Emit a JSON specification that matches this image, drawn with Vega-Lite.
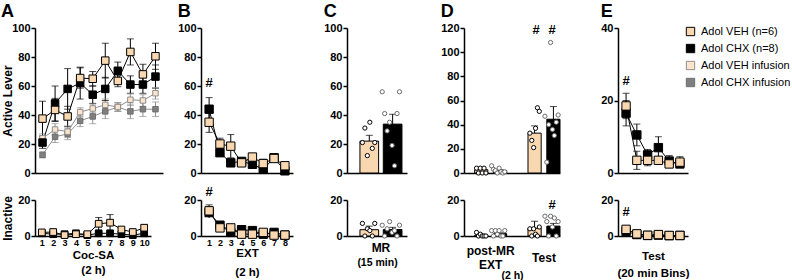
{
"$schema": "https://vega.github.io/schema/vega-lite/v6.json",
"padding": {"left": 1, "top": 3, "right": 0, "bottom": 0},
"config": {
  "font": "Liberation Sans",
  "view": {"stroke": null},
  "axis": {"labelFont": "Liberation Sans", "labelFontWeight": "bold", "labelColor": "#000", "titleFont": "Liberation Sans", "titleFontWeight": "bold", "titleColor": "#000", "domainColor": "#000", "tickColor": "#000", "grid": false, "domainWidth": 1.5, "tickWidth": 1.5, "labelOverlap": false, "labelFlush": false, "labelBound": false},
  "axisY": {"labelOverlap": false, "tickCount": 10},
  "title": {"font": "Liberation Sans", "fontSize": 18, "fontWeight": "bold", "anchor": "start", "color": "#000", "offset": 1},
  "legend": {"orient": "none", "legendX": 650, "legendY": -2, "labelFont": "Liberation Sans", "labelFontSize": 11, "labelColor": "#000", "symbolType": "square", "symbolSize": 70, "symbolStrokeWidth": 1, "rowPadding": 4, "labelOffset": 5, "padding": 0}
},
"hconcat": [
 {"hconcat": [
  {"vconcat": [
   {"width": 128, "height": 145, "title": {"text": "A"},
    "data": {"values": [
     {"s":"Adol CHX infusion","x":1,"m":12.5,"lo":10.5,"hi":14.5},
     {"s":"Adol CHX infusion","x":2,"m":25,"lo":21,"hi":29},
     {"s":"Adol CHX infusion","x":3,"m":27,"lo":23,"hi":31},
     {"s":"Adol CHX infusion","x":4,"m":36,"lo":32,"hi":40},
     {"s":"Adol CHX infusion","x":5,"m":39,"lo":34,"hi":44},
     {"s":"Adol CHX infusion","x":6,"m":42.5,"lo":37.5,"hi":47.5},
     {"s":"Adol CHX infusion","x":7,"m":45.5,"lo":42.5,"hi":48.5},
     {"s":"Adol CHX infusion","x":8,"m":42.5,"lo":37.5,"hi":47.5},
     {"s":"Adol CHX infusion","x":9,"m":44,"lo":39,"hi":49},
     {"s":"Adol CHX infusion","x":10,"m":44,"lo":39,"hi":49},
     {"s":"Adol VEH infusion","x":1,"m":24,"lo":21,"hi":27},
     {"s":"Adol VEH infusion","x":2,"m":30,"lo":26,"hi":34},
     {"s":"Adol VEH infusion","x":3,"m":28.5,"lo":24.5,"hi":32.5},
     {"s":"Adol VEH infusion","x":4,"m":42,"lo":39,"hi":45},
     {"s":"Adol VEH infusion","x":5,"m":44.5,"lo":41.5,"hi":47.5},
     {"s":"Adol VEH infusion","x":6,"m":47,"lo":43,"hi":51},
     {"s":"Adol VEH infusion","x":7,"m":45.5,"lo":42.5,"hi":48.5},
     {"s":"Adol VEH infusion","x":8,"m":50.5,"lo":46.5,"hi":54.5},
     {"s":"Adol VEH infusion","x":9,"m":50,"lo":46,"hi":54},
     {"s":"Adol VEH infusion","x":10,"m":55,"lo":51,"hi":59},
     {"s":"Adol CHX (n=8)","x":1,"m":21,"lo":17,"hi":25},
     {"s":"Adol CHX (n=8)","x":2,"m":48,"lo":36,"hi":60},
     {"s":"Adol CHX (n=8)","x":3,"m":58,"lo":44,"hi":72},
     {"s":"Adol CHX (n=8)","x":4,"m":62,"lo":51,"hi":73},
     {"s":"Adol CHX (n=8)","x":5,"m":54,"lo":48,"hi":60},
     {"s":"Adol CHX (n=8)","x":6,"m":58,"lo":50,"hi":66},
     {"s":"Adol CHX (n=8)","x":7,"m":70.5,"lo":64.5,"hi":76.5},
     {"s":"Adol CHX (n=8)","x":8,"m":61,"lo":55,"hi":67},
     {"s":"Adol CHX (n=8)","x":9,"m":61,"lo":55,"hi":67},
     {"s":"Adol CHX (n=8)","x":10,"m":66.5,"lo":58.5,"hi":74.5},
     {"s":"Adol VEH (n=6)","x":1,"m":37.5,"lo":25.5,"hi":49.5},
     {"s":"Adol VEH (n=6)","x":2,"m":43.5,"lo":35.5,"hi":51.5},
     {"s":"Adol VEH (n=6)","x":3,"m":39,"lo":32,"hi":46},
     {"s":"Adol VEH (n=6)","x":4,"m":65.5,"lo":58.5,"hi":72.5},
     {"s":"Adol VEH (n=6)","x":5,"m":65,"lo":60,"hi":70},
     {"s":"Adol VEH (n=6)","x":6,"m":77.5,"lo":65.5,"hi":89.5},
     {"s":"Adol VEH (n=6)","x":7,"m":63.5,"lo":59.5,"hi":67.5},
     {"s":"Adol VEH (n=6)","x":8,"m":83.5,"lo":74.5,"hi":92.5},
     {"s":"Adol VEH (n=6)","x":9,"m":68,"lo":61,"hi":75},
     {"s":"Adol VEH (n=6)","x":10,"m":80.5,"lo":71.5,"hi":89.5}
    ]},
    "encoding": {"x": {"field": "x", "type": "ordinal", "scale": {"type": "point", "padding": 0.6}, "axis": {"labels": false, "ticks": false, "title": null}}},
    "layer": [
     {"mark": {"type": "rule", "strokeWidth": 1}, "encoding": {"y": {"field": "lo", "type": "quantitative", "scale": {"domain": [0, 100]}, "axis": {"title": "Active Lever", "values": [0,20,40,60,80,100], "tickCount": 10, "tickSize": 4, "labelPadding": 1, "labelFontSize": 11, "labelOverlap": false, "titleFontSize": 12, "minExtent": 20, "maxExtent": 20, "titlePadding": 1}}, "y2": {"field": "hi"}, "color": {"condition": {"test": "indexof(datum.s,'infusion')>=0", "value": "#8F8F8F"}, "value": "#000000"}}},
     {"mark": {"type": "tick", "thickness": 1, "size": 7}, "encoding": {"y": {"field": "lo", "type": "quantitative"}, "color": {"condition": {"test": "indexof(datum.s,'infusion')>=0", "value": "#8F8F8F"}, "value": "#000000"}}},
     {"mark": {"type": "tick", "thickness": 1, "size": 7}, "encoding": {"y": {"field": "hi", "type": "quantitative"}, "color": {"condition": {"test": "indexof(datum.s,'infusion')>=0", "value": "#8F8F8F"}, "value": "#000000"}}},
     {"mark": {"type": "line", "strokeWidth": 1}, "encoding": {"y": {"field": "m", "type": "quantitative"}, "detail": {"field": "s"}, "color": {"condition": {"test": "indexof(datum.s,'infusion')>=0", "value": "#8F8F8F"}, "value": "#000000"}}},
     {"transform": [{"filter": "indexof(datum.s,'infusion')>=0"}], "mark": {"type": "square", "opacity": 1, "strokeWidth": 1, "size": 30}, "encoding": {"y": {"field": "m", "type": "quantitative"},
       "fill": {"field": "s", "type": "nominal", "title": null, "scale": {"domain": ["Adol VEH (n=6)","Adol CHX (n=8)","Adol VEH infusion","Adol CHX infusion"], "range": ["#F9D7B1","#000000","#FCE3CB","#7F7F7F"]}},
       "stroke": {"field": "s", "type": "nominal", "title": null, "scale": {"domain": ["Adol VEH (n=6)","Adol CHX (n=8)","Adol VEH infusion","Adol CHX infusion"], "range": ["#000000","#000000","#8F8F8F","#6F6F6F"]}}}},
     {"transform": [{"filter": "indexof(datum.s,'infusion')<0"}], "mark": {"type": "square", "opacity": 1, "strokeWidth": 1, "size": 56}, "encoding": {"y": {"field": "m", "type": "quantitative"},
       "fill": {"field": "s", "type": "nominal", "title": null, "scale": {"domain": ["Adol VEH (n=6)","Adol CHX (n=8)","Adol VEH infusion","Adol CHX infusion"], "range": ["#F9D7B1","#000000","#FCE3CB","#7F7F7F"]}},
       "stroke": {"field": "s", "type": "nominal", "title": null, "scale": {"domain": ["Adol VEH (n=6)","Adol CHX (n=8)","Adol VEH infusion","Adol CHX infusion"], "range": ["#000000","#000000","#8F8F8F","#6F6F6F"]}}}}
    ]
   },
   {"width": 116, "height": 36,
    "data": {"values": [
     {"s":"Adol CHX (n=8)","x":1,"m":1.5,"lo":1,"hi":2},
     {"s":"Adol CHX (n=8)","x":2,"m":1,"lo":0.5,"hi":1.5},
     {"s":"Adol CHX (n=8)","x":3,"m":1,"lo":0.5,"hi":1.5},
     {"s":"Adol CHX (n=8)","x":4,"m":1.5,"lo":1,"hi":2},
     {"s":"Adol CHX (n=8)","x":5,"m":0.5,"lo":0.2,"hi":0.8},
     {"s":"Adol CHX (n=8)","x":6,"m":1.5,"lo":1,"hi":2},
     {"s":"Adol CHX (n=8)","x":7,"m":1.5,"lo":1,"hi":2},
     {"s":"Adol CHX (n=8)","x":8,"m":1,"lo":0.5,"hi":1.5},
     {"s":"Adol CHX (n=8)","x":9,"m":0.5,"lo":0.2,"hi":0.8},
     {"s":"Adol CHX (n=8)","x":10,"m":1.5,"lo":1,"hi":2},
     {"s":"Adol VEH (n=6)","x":1,"m":2,"lo":1.3,"hi":2.7},
     {"s":"Adol VEH (n=6)","x":2,"m":2.2,"lo":1.5,"hi":2.9},
     {"s":"Adol VEH (n=6)","x":3,"m":0.5,"lo":0.2,"hi":0.8},
     {"s":"Adol VEH (n=6)","x":4,"m":1,"lo":0.5,"hi":1.5},
     {"s":"Adol VEH (n=6)","x":5,"m":1,"lo":0.5,"hi":1.5},
     {"s":"Adol VEH (n=6)","x":6,"m":6.8,"lo":3.3,"hi":10.3},
     {"s":"Adol VEH (n=6)","x":7,"m":7.4,"lo":2.9,"hi":11.9},
     {"s":"Adol VEH (n=6)","x":8,"m":3.6,"lo":2.6,"hi":4.6},
     {"s":"Adol VEH (n=6)","x":9,"m":2.2,"lo":1.4,"hi":3},
     {"s":"Adol VEH (n=6)","x":10,"m":4.6,"lo":3.1,"hi":6.1}
    ]},
    "encoding": {"x": {"field": "x", "type": "ordinal", "scale": {"type": "point", "padding": 0.6}, "axis": {"labelAngle": 0, "labelFontSize": 9, "ticks": false, "labelPadding": 2, "title": ["Coc-SA", "(2 h)"], "titleFontSize": 11.5, "titleLineHeight": 15, "titlePadding": 2}}},
    "layer": [
     {"mark": {"type": "rule", "strokeWidth": 1, "color": "#000"}, "encoding": {"y": {"field": "lo", "type": "quantitative", "scale": {"domain": [0, 20]}, "axis": {"title": "Inactive", "values": [0,20], "tickCount": 10, "tickSize": 4, "labelPadding": 1, "labelFontSize": 11, "labelOverlap": false, "titleFontSize": 12, "minExtent": 20, "maxExtent": 20, "titlePadding": 1}}, "y2": {"field": "hi"}}},
     {"mark": {"type": "tick", "thickness": 1, "size": 7, "color": "#000"}, "encoding": {"y": {"field": "hi", "type": "quantitative"}}},
     {"mark": {"type": "line", "strokeWidth": 1, "color": "#000"}, "encoding": {"y": {"field": "m", "type": "quantitative"}, "detail": {"field": "s"}}},
     {"mark": {"type": "square", "opacity": 1, "strokeWidth": 1, "size": 45}, "encoding": {"y": {"field": "m", "type": "quantitative"},
       "fill": {"field": "s", "type": "nominal", "title": null, "scale": {"domain": ["Adol VEH (n=6)","Adol CHX (n=8)","Adol VEH infusion","Adol CHX infusion"], "range": ["#F9D7B1","#000000","#FCE3CB","#7F7F7F"]}},
       "stroke": {"field": "s", "type": "nominal", "title": null, "scale": {"domain": ["Adol VEH (n=6)","Adol CHX (n=8)","Adol VEH infusion","Adol CHX infusion"], "range": ["#000000","#000000","#8F8F8F","#6F6F6F"]}}}}
    ]
   }
  ], "spacing": 27, "bounds": "flush"},
  {"vconcat": [
   {"width": 92, "height": 145, "title": {"text": "B"},
    "data": {"values": [
     {"s":"Adol CHX (n=8)","x":1,"m":44,"lo":36,"hi":52},
     {"s":"Adol CHX (n=8)","x":2,"m":14,"lo":12,"hi":16},
     {"s":"Adol CHX (n=8)","x":3,"m":7,"lo":5,"hi":9},
     {"s":"Adol CHX (n=8)","x":4,"m":8,"lo":6,"hi":10},
     {"s":"Adol CHX (n=8)","x":5,"m":6,"lo":4,"hi":8},
     {"s":"Adol CHX (n=8)","x":6,"m":2.5,"lo":0.5,"hi":4.5},
     {"s":"Adol CHX (n=8)","x":7,"m":10.5,"lo":8.5,"hi":12.5},
     {"s":"Adol CHX (n=8)","x":8,"m":1.5,"lo":0.5,"hi":2.5},
     {"s":"Adol VEH (n=6)","x":1,"m":35,"lo":28,"hi":42},
     {"s":"Adol VEH (n=6)","x":2,"m":20,"lo":16,"hi":24},
     {"s":"Adol VEH (n=6)","x":3,"m":18.5,"lo":10.5,"hi":26.5},
     {"s":"Adol VEH (n=6)","x":4,"m":7,"lo":5,"hi":9},
     {"s":"Adol VEH (n=6)","x":5,"m":11,"lo":9,"hi":13},
     {"s":"Adol VEH (n=6)","x":6,"m":6.5,"lo":3.5,"hi":9.5},
     {"s":"Adol VEH (n=6)","x":7,"m":10,"lo":8,"hi":12},
     {"s":"Adol VEH (n=6)","x":8,"m":5,"lo":3,"hi":7}
    ]},
    "encoding": {"x": {"field": "x", "type": "ordinal", "scale": {"type": "point", "padding": 0.75}, "axis": {"labels": false, "ticks": false, "title": null}}},
    "layer": [
     {"mark": {"type": "rule", "strokeWidth": 1, "color": "#000"}, "encoding": {"y": {"field": "lo", "type": "quantitative", "scale": {"domain": [0, 100]}, "axis": {"title": null, "values": [0,20,40,60,80,100], "tickCount": 10, "tickSize": 4, "labelPadding": 1, "labelFontSize": 11, "labelOverlap": false}}, "y2": {"field": "hi"}}},
     {"mark": {"type": "tick", "thickness": 1, "size": 7, "color": "#000"}, "encoding": {"y": {"field": "lo", "type": "quantitative"}}},
     {"mark": {"type": "tick", "thickness": 1, "size": 7, "color": "#000"}, "encoding": {"y": {"field": "hi", "type": "quantitative"}}},
     {"mark": {"type": "line", "strokeWidth": 1, "color": "#000"}, "encoding": {"y": {"field": "m", "type": "quantitative"}, "detail": {"field": "s"}}},
     {"mark": {"type": "square", "opacity": 1, "strokeWidth": 1, "size": 70}, "encoding": {"y": {"field": "m", "type": "quantitative"},
       "fill": {"field": "s", "type": "nominal", "title": null, "scale": {"domain": ["Adol VEH (n=6)","Adol CHX (n=8)","Adol VEH infusion","Adol CHX infusion"], "range": ["#F9D7B1","#000000","#FCE3CB","#7F7F7F"]}},
       "stroke": {"field": "s", "type": "nominal", "title": null, "scale": {"domain": ["Adol VEH (n=6)","Adol CHX (n=8)","Adol VEH infusion","Adol CHX infusion"], "range": ["#000000","#000000","#8F8F8F","#6F6F6F"]}}}},
     {"data": {"values": [{"x": 1, "y": 62, "t": "#"}]}, "mark": {"type": "text", "fontSize": 13, "fontWeight": "bold", "color": "#000"}, "encoding": {"x": {"field": "x", "type": "ordinal"}, "y": {"field": "y", "type": "quantitative"}, "text": {"field": "t"}}}
    ]
   },
   {"width": 92, "height": 36,
    "data": {"values": [
     {"s":"Adol CHX (n=8)","x":1,"m":13,"lo":10,"hi":16},
     {"s":"Adol CHX (n=8)","x":2,"m":6,"lo":5,"hi":7},
     {"s":"Adol CHX (n=8)","x":3,"m":2,"lo":1.2,"hi":2.8},
     {"s":"Adol CHX (n=8)","x":4,"m":3.5,"lo":2.8,"hi":4.2},
     {"s":"Adol CHX (n=8)","x":5,"m":3,"lo":2.2,"hi":3.8},
     {"s":"Adol CHX (n=8)","x":6,"m":1,"lo":0.5,"hi":1.5},
     {"s":"Adol CHX (n=8)","x":7,"m":2,"lo":1.4,"hi":2.6},
     {"s":"Adol CHX (n=8)","x":8,"m":0.5,"lo":0.2,"hi":0.8},
     {"s":"Adol VEH (n=6)","x":1,"m":14,"lo":10.7,"hi":17.3},
     {"s":"Adol VEH (n=6)","x":2,"m":4.5,"lo":3.5,"hi":5.5},
     {"s":"Adol VEH (n=6)","x":3,"m":4.5,"lo":3,"hi":6},
     {"s":"Adol VEH (n=6)","x":4,"m":1,"lo":0.5,"hi":1.5},
     {"s":"Adol VEH (n=6)","x":5,"m":1,"lo":0.5,"hi":1.5},
     {"s":"Adol VEH (n=6)","x":6,"m":2,"lo":1.2,"hi":2.8},
     {"s":"Adol VEH (n=6)","x":7,"m":0.5,"lo":0.2,"hi":0.8},
     {"s":"Adol VEH (n=6)","x":8,"m":0.5,"lo":0.2,"hi":0.8}
    ]},
    "encoding": {"x": {"field": "x", "type": "ordinal", "scale": {"type": "point", "padding": 0.75}, "axis": {"labelAngle": 0, "labelFontSize": 9, "ticks": false, "labelPadding": 2, "title": ["EXT", "(2 h)"], "titleFontSize": 11.5, "titleLineHeight": 19, "titlePadding": 0}}},
    "layer": [
     {"mark": {"type": "rule", "strokeWidth": 1, "color": "#000"}, "encoding": {"y": {"field": "lo", "type": "quantitative", "scale": {"domain": [0, 20]}, "axis": {"title": null, "values": [0,20], "tickCount": 10, "tickSize": 4, "labelPadding": 1, "labelFontSize": 11, "labelOverlap": false}}, "y2": {"field": "hi"}}},
     {"mark": {"type": "tick", "thickness": 1, "size": 7, "color": "#000"}, "encoding": {"y": {"field": "hi", "type": "quantitative"}}},
     {"mark": {"type": "line", "strokeWidth": 1, "color": "#000"}, "encoding": {"y": {"field": "m", "type": "quantitative"}, "detail": {"field": "s"}}},
     {"mark": {"type": "square", "opacity": 1, "strokeWidth": 1, "size": 70}, "encoding": {"y": {"field": "m", "type": "quantitative"},
       "fill": {"field": "s", "type": "nominal", "title": null, "scale": {"domain": ["Adol VEH (n=6)","Adol CHX (n=8)","Adol VEH infusion","Adol CHX infusion"], "range": ["#F9D7B1","#000000","#FCE3CB","#7F7F7F"]}},
       "stroke": {"field": "s", "type": "nominal", "title": null, "scale": {"domain": ["Adol VEH (n=6)","Adol CHX (n=8)","Adol VEH infusion","Adol CHX infusion"], "range": ["#000000","#000000","#8F8F8F","#6F6F6F"]}}}},
     {"data": {"values": [{"x": 1, "y": 24.5, "t": "#"}]}, "mark": {"type": "text", "fontSize": 13, "fontWeight": "bold", "color": "#000"}, "encoding": {"x": {"field": "x", "type": "ordinal"}, "y": {"field": "y", "type": "quantitative"}, "text": {"field": "t"}}}
    ]
   }
  ], "spacing": 27, "bounds": "flush"}
 ], "spacing": 14},
 {"hconcat": [
  {"vconcat": [
   {"width": 60, "height": 145, "title": {"text": "C"},
    "encoding": {"x": {"field": "ph", "type": "nominal", "scale": {"domain": ["MR"], "paddingInner": 0, "paddingOuter": 0.214, "align": 0.72}, "axis": {"labels": false, "ticks": false, "title": null}}},
    "layer": [
     {"data": {"values": [{"ph":"MR","s":"Adol VEH (n=6)","m":22,"hi":26},{"ph":"MR","s":"Adol CHX (n=8)","m":33.7,"hi":40.5}]},
      "mark": {"type": "bar", "stroke": "#000", "strokeWidth": 1},
      "encoding": {"xOffset": {"field": "s", "type": "nominal", "scale": {"domain": ["Adol VEH (n=6)","Adol CHX (n=8)"], "paddingInner": 0.2}},
       "y": {"field": "m", "type": "quantitative", "scale": {"domain": [0, 100]}, "axis": {"title": null, "values": [0,20,40,60,80,100], "tickCount": 10, "tickSize": 4, "labelPadding": 1, "labelFontSize": 11, "labelOverlap": false}},
       "fill": {"field": "s", "type": "nominal", "title": null, "scale": {"domain": ["Adol VEH (n=6)","Adol CHX (n=8)","Adol VEH infusion","Adol CHX infusion"], "range": ["#F9D7B1","#000000","#FCE3CB","#7F7F7F"]}}}},
     {"data": {"values": [{"ph":"MR","s":"Adol VEH (n=6)","m":22,"hi":26},{"ph":"MR","s":"Adol CHX (n=8)","m":33.7,"hi":40.5}]},
      "mark": {"type": "rule", "color": "#000", "strokeWidth": 1},
      "encoding": {"xOffset": {"field": "s", "type": "nominal", "scale": {"domain": ["Adol VEH (n=6)","Adol CHX (n=8)"], "paddingInner": 0.2}}, "y": {"field": "m", "type": "quantitative"}, "y2": {"field": "hi"}}},
     {"data": {"values": [{"ph":"MR","s":"Adol VEH (n=6)","m":22,"hi":26},{"ph":"MR","s":"Adol CHX (n=8)","m":33.7,"hi":40.5}]},
      "mark": {"type": "tick", "color": "#000", "thickness": 1, "size": 7},
      "encoding": {"xOffset": {"field": "s", "type": "nominal", "scale": {"domain": ["Adol VEH (n=6)","Adol CHX (n=8)"], "paddingInner": 0.2}}, "y": {"field": "hi", "type": "quantitative"}}},
     {"data": {"values": [
       {"ph":"MR","s":"Adol VEH (n=6)","id":"V1","v":21},{"ph":"MR","s":"Adol VEH (n=6)","id":"V2","v":31},{"ph":"MR","s":"Adol VEH (n=6)","id":"V3","v":12},
       {"ph":"MR","s":"Adol VEH (n=6)","id":"V4","v":35},{"ph":"MR","s":"Adol VEH (n=6)","id":"V5","v":17},{"ph":"MR","s":"Adol VEH (n=6)","id":"V6","v":21},
       {"ph":"MR","s":"Adol CHX (n=8)","id":"C1","v":56},{"ph":"MR","s":"Adol CHX (n=8)","id":"C2","v":41},{"ph":"MR","s":"Adol CHX (n=8)","id":"C3","v":29},
       {"ph":"MR","s":"Adol CHX (n=8)","id":"C4","v":35},{"ph":"MR","s":"Adol CHX (n=8)","id":"C5","v":19},{"ph":"MR","s":"Adol CHX (n=8)","id":"C6","v":5},
       {"ph":"MR","s":"Adol CHX (n=8)","id":"C7","v":41},{"ph":"MR","s":"Adol CHX (n=8)","id":"C8","v":56}
      ]},
      "mark": {"type": "circle", "fill": "#fff", "size": 18, "strokeWidth": 1, "opacity": 1},
      "encoding": {"xOffset": {"field": "id", "type": "nominal", "scale": {"type": "point", "padding": 1, "domain": ["V1","V2","V3","V4","V5","V6","g1","g2","C1","C2","C3","C4","C5","C6","C7","C8"]}},
       "y": {"field": "v", "type": "quantitative"},
       "stroke": {"condition": {"test": "datum.s == 'Adol VEH (n=6)'", "value": "#000"}, "value": "#6b6b6b"}}}
    ],
    "resolve": {"scale": {"xOffset": "independent"}}
   },
   {"width": 60, "height": 36,
    "encoding": {"x": {"field": "ph", "type": "nominal", "scale": {"domain": ["MR"], "paddingInner": 0, "paddingOuter": 0.214, "align": 0.72}, "axis": {"labelAngle": 0, "labelFontSize": 12, "ticks": false, "labelPadding": 6, "title": "(15 min)", "titleFontSize": 10.5, "titlePadding": 4}}},
    "layer": [
     {"data": {"values": [{"ph":"MR","s":"Adol VEH (n=6)","m":3.5,"hi":5.5},{"ph":"MR","s":"Adol CHX (n=8)","m":3.6,"hi":4.8}]},
      "mark": {"type": "bar", "stroke": "#000", "strokeWidth": 1},
      "encoding": {"xOffset": {"field": "s", "type": "nominal", "scale": {"domain": ["Adol VEH (n=6)","Adol CHX (n=8)"], "paddingInner": 0.2}},
       "y": {"field": "m", "type": "quantitative", "scale": {"domain": [0, 20]}, "axis": {"title": null, "values": [0,20], "tickCount": 10, "tickSize": 4, "labelPadding": 1, "labelFontSize": 11, "labelOverlap": false}},
       "fill": {"field": "s", "type": "nominal", "title": null, "scale": {"domain": ["Adol VEH (n=6)","Adol CHX (n=8)","Adol VEH infusion","Adol CHX infusion"], "range": ["#F9D7B1","#000000","#FCE3CB","#7F7F7F"]}}}},
     {"data": {"values": [{"ph":"MR","s":"Adol VEH (n=6)","m":3.5,"hi":5.5},{"ph":"MR","s":"Adol CHX (n=8)","m":3.6,"hi":4.8}]},
      "mark": {"type": "rule", "color": "#000", "strokeWidth": 1},
      "encoding": {"xOffset": {"field": "s", "type": "nominal", "scale": {"domain": ["Adol VEH (n=6)","Adol CHX (n=8)"], "paddingInner": 0.2}}, "y": {"field": "m", "type": "quantitative"}, "y2": {"field": "hi"}}},
     {"data": {"values": [{"ph":"MR","s":"Adol VEH (n=6)","m":3.5,"hi":5.5},{"ph":"MR","s":"Adol CHX (n=8)","m":3.6,"hi":4.8}]},
      "mark": {"type": "tick", "color": "#000", "thickness": 1, "size": 7},
      "encoding": {"xOffset": {"field": "s", "type": "nominal", "scale": {"domain": ["Adol VEH (n=6)","Adol CHX (n=8)"], "paddingInner": 0.2}}, "y": {"field": "hi", "type": "quantitative"}}},
     {"data": {"values": [
       {"ph":"MR","s":"Adol VEH (n=6)","id":"V1","v":7},{"ph":"MR","s":"Adol VEH (n=6)","id":"V2","v":0},{"ph":"MR","s":"Adol VEH (n=6)","id":"V3","v":4},
       {"ph":"MR","s":"Adol VEH (n=6)","id":"V4","v":3},{"ph":"MR","s":"Adol VEH (n=6)","id":"V5","v":0},{"ph":"MR","s":"Adol VEH (n=6)","id":"V6","v":7},
       {"ph":"MR","s":"Adol CHX (n=8)","id":"C1","v":6},{"ph":"MR","s":"Adol CHX (n=8)","id":"C2","v":0},{"ph":"MR","s":"Adol CHX (n=8)","id":"C3","v":4},
       {"ph":"MR","s":"Adol CHX (n=8)","id":"C4","v":8},{"ph":"MR","s":"Adol CHX (n=8)","id":"C5","v":2},{"ph":"MR","s":"Adol CHX (n=8)","id":"C6","v":3},
       {"ph":"MR","s":"Adol CHX (n=8)","id":"C7","v":0},{"ph":"MR","s":"Adol CHX (n=8)","id":"C8","v":6}
      ]},
      "mark": {"type": "circle", "fill": "#fff", "size": 18, "strokeWidth": 1, "opacity": 1},
      "encoding": {"xOffset": {"field": "id", "type": "nominal", "scale": {"type": "point", "padding": 1, "domain": ["V1","V2","V3","V4","V5","V6","g1","g2","C1","C2","C3","C4","C5","C6","C7","C8"]}},
       "y": {"field": "v", "type": "quantitative"},
       "stroke": {"condition": {"test": "datum.s == 'Adol VEH (n=6)'", "value": "#000"}, "value": "#6b6b6b"}}}
    ],
    "resolve": {"scale": {"xOffset": "independent"}}
   }
  ], "spacing": 27, "bounds": "flush"},
  {"hconcat": [
   {"vconcat": [
    {"width": 96, "height": 145, "title": {"text": "D"},
     "encoding": {"x": {"field": "ph", "type": "nominal", "scale": {"domain": ["post-MR EXT", "Test"], "paddingInner": 0.4, "paddingOuter": 0.1, "align": 1}, "axis": {"labels": false, "ticks": false, "title": null}}},
     "layer": [
      {"data": {"values": [{"ph":"post-MR EXT","s":"Adol VEH (n=6)","m":2.7,"hi":3.5},{"ph":"post-MR EXT","s":"Adol CHX (n=8)","m":2,"hi":2.8},{"ph":"Test","s":"Adol VEH (n=6)","m":33,"hi":39},{"ph":"Test","s":"Adol CHX (n=8)","m":44.5,"hi":55}]},
       "mark": {"type": "bar", "stroke": "#000", "strokeWidth": 1},
       "encoding": {"xOffset": {"field": "s", "type": "nominal", "scale": {"domain": ["Adol VEH (n=6)","Adol CHX (n=8)"], "paddingInner": 0.3}},
        "y": {"field": "m", "type": "quantitative", "scale": {"domain": [0, 120]}, "axis": {"title": null, "values": [0,20,40,60,80,100,120], "tickCount": 10, "tickSize": 4, "labelPadding": 1, "labelFontSize": 11, "labelOverlap": false}},
        "fill": {"field": "s", "type": "nominal", "title": null, "scale": {"domain": ["Adol VEH (n=6)","Adol CHX (n=8)","Adol VEH infusion","Adol CHX infusion"], "range": ["#F9D7B1","#000000","#FCE3CB","#7F7F7F"]}}}},
      {"data": {"values": [{"ph":"post-MR EXT","s":"Adol VEH (n=6)","m":2.7,"hi":3.5},{"ph":"post-MR EXT","s":"Adol CHX (n=8)","m":2,"hi":2.8},{"ph":"Test","s":"Adol VEH (n=6)","m":33,"hi":39},{"ph":"Test","s":"Adol CHX (n=8)","m":44.5,"hi":55}]},
       "mark": {"type": "rule", "color": "#000", "strokeWidth": 1},
       "encoding": {"xOffset": {"field": "s", "type": "nominal", "scale": {"domain": ["Adol VEH (n=6)","Adol CHX (n=8)"], "paddingInner": 0.3}}, "y": {"field": "m", "type": "quantitative"}, "y2": {"field": "hi"}}},
      {"data": {"values": [{"ph":"post-MR EXT","s":"Adol VEH (n=6)","m":2.7,"hi":3.5},{"ph":"post-MR EXT","s":"Adol CHX (n=8)","m":2,"hi":2.8},{"ph":"Test","s":"Adol VEH (n=6)","m":33,"hi":39},{"ph":"Test","s":"Adol CHX (n=8)","m":44.5,"hi":55}]},
       "mark": {"type": "tick", "color": "#000", "thickness": 1, "size": 7},
       "encoding": {"xOffset": {"field": "s", "type": "nominal", "scale": {"domain": ["Adol VEH (n=6)","Adol CHX (n=8)"], "paddingInner": 0.3}}, "y": {"field": "hi", "type": "quantitative"}}},
      {"data": {"values": [
        {"ph":"post-MR EXT","s":"Adol VEH (n=6)","id":"V1","v":4},{"ph":"post-MR EXT","s":"Adol VEH (n=6)","id":"V2","v":0},{"ph":"post-MR EXT","s":"Adol VEH (n=6)","id":"V3","v":4},
        {"ph":"post-MR EXT","s":"Adol VEH (n=6)","id":"V4","v":0},{"ph":"post-MR EXT","s":"Adol VEH (n=6)","id":"V5","v":4},{"ph":"post-MR EXT","s":"Adol VEH (n=6)","id":"V6","v":0},
        {"ph":"post-MR EXT","s":"Adol CHX (n=8)","id":"C1","v":6},{"ph":"post-MR EXT","s":"Adol CHX (n=8)","id":"C2","v":3},{"ph":"post-MR EXT","s":"Adol CHX (n=8)","id":"C3","v":2},
        {"ph":"post-MR EXT","s":"Adol CHX (n=8)","id":"C4","v":0},{"ph":"post-MR EXT","s":"Adol CHX (n=8)","id":"C5","v":4},{"ph":"post-MR EXT","s":"Adol CHX (n=8)","id":"C6","v":1},
        {"ph":"post-MR EXT","s":"Adol CHX (n=8)","id":"C7","v":0},{"ph":"post-MR EXT","s":"Adol CHX (n=8)","id":"C8","v":1},
        {"ph":"Test","s":"Adol VEH (n=6)","id":"V1","v":33},{"ph":"Test","s":"Adol VEH (n=6)","id":"V2","v":27},{"ph":"Test","s":"Adol VEH (n=6)","id":"V3","v":21},
        {"ph":"Test","s":"Adol VEH (n=6)","id":"V4","v":37},{"ph":"Test","s":"Adol VEH (n=6)","id":"V5","v":54},{"ph":"Test","s":"Adol VEH (n=6)","id":"V6","v":51},
        {"ph":"Test","s":"Adol CHX (n=8)","id":"C1","v":47},{"ph":"Test","s":"Adol CHX (n=8)","id":"C2","v":9},{"ph":"Test","s":"Adol CHX (n=8)","id":"C3","v":40},
        {"ph":"Test","s":"Adol CHX (n=8)","id":"C4","v":108},{"ph":"Test","s":"Adol CHX (n=8)","id":"C5","v":36},{"ph":"Test","s":"Adol CHX (n=8)","id":"C6","v":31},
        {"ph":"Test","s":"Adol CHX (n=8)","id":"C7","v":42},{"ph":"Test","s":"Adol CHX (n=8)","id":"C8","v":48}
       ]},
       "mark": {"type": "circle", "fill": "#fff", "size": 18, "strokeWidth": 1, "opacity": 1},
       "encoding": {"xOffset": {"field": "id", "type": "nominal", "scale": {"type": "point", "padding": 1, "domain": ["V1","V2","V3","V4","V5","V6","g1","g2","C1","C2","C3","C4","C5","C6","C7","C8"]}},
        "y": {"field": "v", "type": "quantitative"},
        "stroke": {"condition": {"test": "datum.s == 'Adol VEH (n=6)'", "value": "#000"}, "value": "#6b6b6b"}}},
      {"data": {"values": [{"ph":"Test","s":"Adol VEH (n=6)","y":118,"t":"#"},{"ph":"Test","s":"Adol CHX (n=8)","y":118,"t":"#"}]},
       "mark": {"type": "text", "fontSize": 13, "fontWeight": "bold", "color": "#000"},
       "encoding": {"xOffset": {"field": "s", "type": "nominal", "scale": {"domain": ["Adol VEH (n=6)","Adol CHX (n=8)"], "paddingInner": 0.3}}, "y": {"field": "y", "type": "quantitative"}, "text": {"field": "t"}}}
     ],
     "resolve": {"scale": {"xOffset": "independent"}}
    },
    {"width": 96, "height": 36,
     "encoding": {"x": {"field": "ph", "type": "nominal", "scale": {"domain": ["post-MR EXT", "Test"], "paddingInner": 0.4, "paddingOuter": 0.1, "align": 1}, "axis": {"labelAngle": 0, "labelFontSize": 12, "ticks": false, "labelBaseline": "middle", "labelPadding": {"condition": {"test": "datum.value == 'Test'", "value": 21}, "value": 14}, "labelLineHeight": 14, "labelExpr": "datum.value == 'post-MR EXT' ? ['post-MR', 'EXT'] : datum.label", "title": "(2 h)", "titleFontSize": 10.5, "titlePadding": 0}}},
     "layer": [
      {"data": {"values": [{"ph":"post-MR EXT","s":"Adol VEH (n=6)","m":0.5,"hi":1},{"ph":"post-MR EXT","s":"Adol CHX (n=8)","m":1.3,"hi":1.8},{"ph":"Test","s":"Adol VEH (n=6)","m":4.3,"hi":8.2},{"ph":"Test","s":"Adol CHX (n=8)","m":5.5,"hi":7}]},
       "mark": {"type": "bar", "stroke": "#000", "strokeWidth": 1},
       "encoding": {"xOffset": {"field": "s", "type": "nominal", "scale": {"domain": ["Adol VEH (n=6)","Adol CHX (n=8)"], "paddingInner": 0.3}},
        "y": {"field": "m", "type": "quantitative", "scale": {"domain": [0, 20]}, "axis": {"title": null, "values": [0,20], "tickCount": 10, "tickSize": 4, "labelPadding": 1, "labelFontSize": 11, "labelOverlap": false}},
        "fill": {"field": "s", "type": "nominal", "title": null, "scale": {"domain": ["Adol VEH (n=6)","Adol CHX (n=8)","Adol VEH infusion","Adol CHX infusion"], "range": ["#F9D7B1","#000000","#FCE3CB","#7F7F7F"]}}}},
      {"data": {"values": [{"ph":"post-MR EXT","s":"Adol VEH (n=6)","m":0.5,"hi":1},{"ph":"post-MR EXT","s":"Adol CHX (n=8)","m":1.3,"hi":1.8},{"ph":"Test","s":"Adol VEH (n=6)","m":4.3,"hi":8.2},{"ph":"Test","s":"Adol CHX (n=8)","m":5.5,"hi":7}]},
       "mark": {"type": "rule", "color": "#000", "strokeWidth": 1},
       "encoding": {"xOffset": {"field": "s", "type": "nominal", "scale": {"domain": ["Adol VEH (n=6)","Adol CHX (n=8)"], "paddingInner": 0.3}}, "y": {"field": "m", "type": "quantitative"}, "y2": {"field": "hi"}}},
      {"data": {"values": [{"ph":"post-MR EXT","s":"Adol VEH (n=6)","m":0.5,"hi":1},{"ph":"post-MR EXT","s":"Adol CHX (n=8)","m":1.3,"hi":1.8},{"ph":"Test","s":"Adol VEH (n=6)","m":4.3,"hi":8.2},{"ph":"Test","s":"Adol CHX (n=8)","m":5.5,"hi":7}]},
       "mark": {"type": "tick", "color": "#000", "thickness": 1, "size": 7},
       "encoding": {"xOffset": {"field": "s", "type": "nominal", "scale": {"domain": ["Adol VEH (n=6)","Adol CHX (n=8)"], "paddingInner": 0.3}}, "y": {"field": "hi", "type": "quantitative"}}},
      {"data": {"values": [
        {"ph":"post-MR EXT","s":"Adol VEH (n=6)","id":"V1","v":2},{"ph":"post-MR EXT","s":"Adol VEH (n=6)","id":"V2","v":0},{"ph":"post-MR EXT","s":"Adol VEH (n=6)","id":"V3","v":1},
        {"ph":"post-MR EXT","s":"Adol VEH (n=6)","id":"V4","v":0},{"ph":"post-MR EXT","s":"Adol VEH (n=6)","id":"V5","v":0},{"ph":"post-MR EXT","s":"Adol VEH (n=6)","id":"V6","v":0},
        {"ph":"post-MR EXT","s":"Adol CHX (n=8)","id":"C1","v":3},{"ph":"post-MR EXT","s":"Adol CHX (n=8)","id":"C2","v":0},{"ph":"post-MR EXT","s":"Adol CHX (n=8)","id":"C3","v":3},
        {"ph":"post-MR EXT","s":"Adol CHX (n=8)","id":"C4","v":1},{"ph":"post-MR EXT","s":"Adol CHX (n=8)","id":"C5","v":3},{"ph":"post-MR EXT","s":"Adol CHX (n=8)","id":"C6","v":0},
        {"ph":"post-MR EXT","s":"Adol CHX (n=8)","id":"C7","v":0},{"ph":"post-MR EXT","s":"Adol CHX (n=8)","id":"C8","v":3},
        {"ph":"Test","s":"Adol VEH (n=6)","id":"V1","v":4},{"ph":"Test","s":"Adol VEH (n=6)","id":"V2","v":0},{"ph":"Test","s":"Adol VEH (n=6)","id":"V3","v":4},
        {"ph":"Test","s":"Adol VEH (n=6)","id":"V4","v":1},{"ph":"Test","s":"Adol VEH (n=6)","id":"V5","v":0},{"ph":"Test","s":"Adol VEH (n=6)","id":"V6","v":5},
        {"ph":"Test","s":"Adol CHX (n=8)","id":"C1","v":11},{"ph":"Test","s":"Adol CHX (n=8)","id":"C2","v":8},{"ph":"Test","s":"Adol CHX (n=8)","id":"C3","v":0},
        {"ph":"Test","s":"Adol CHX (n=8)","id":"C4","v":11},{"ph":"Test","s":"Adol CHX (n=8)","id":"C5","v":5},{"ph":"Test","s":"Adol CHX (n=8)","id":"C6","v":10},
        {"ph":"Test","s":"Adol CHX (n=8)","id":"C7","v":0},{"ph":"Test","s":"Adol CHX (n=8)","id":"C8","v":8}
       ]},
       "mark": {"type": "circle", "fill": "#fff", "size": 18, "strokeWidth": 1, "opacity": 1},
       "encoding": {"xOffset": {"field": "id", "type": "nominal", "scale": {"type": "point", "padding": 1, "domain": ["V1","V2","V3","V4","V5","V6","g1","g2","C1","C2","C3","C4","C5","C6","C7","C8"]}},
        "y": {"field": "v", "type": "quantitative"},
        "stroke": {"condition": {"test": "datum.s == 'Adol VEH (n=6)'", "value": "#000"}, "value": "#6b6b6b"}}},
      {"data": {"values": [{"ph":"Test","s":"Adol CHX (n=8)","y":17.5,"t":"#"}]},
       "mark": {"type": "text", "fontSize": 13, "fontWeight": "bold", "color": "#000"},
       "encoding": {"xOffset": {"field": "s", "type": "nominal", "scale": {"domain": ["Adol VEH (n=6)","Adol CHX (n=8)"], "paddingInner": 0.3}}, "y": {"field": "y", "type": "quantitative"}, "text": {"field": "t"}}}
     ],
     "resolve": {"scale": {"xOffset": "independent"}}
    }
   ], "spacing": 27, "bounds": "flush"},
   {"vconcat": [
    {"width": 70, "height": 145, "title": {"text": "E"},
     "data": {"values": [
      {"s":"Adol CHX (n=8)","x":1,"m":16.5,"lo":13,"hi":20},
      {"s":"Adol CHX (n=8)","x":2,"m":10.5,"lo":7.5,"hi":13.5},
      {"s":"Adol CHX (n=8)","x":3,"m":5,"lo":3.5,"hi":6.5},
      {"s":"Adol CHX (n=8)","x":4,"m":7,"lo":4,"hi":10},
      {"s":"Adol CHX (n=8)","x":5,"m":3.3,"lo":1.8,"hi":4.8},
      {"s":"Adol CHX (n=8)","x":6,"m":2.5,"lo":1.5,"hi":3.5},
      {"s":"Adol VEH (n=6)","x":1,"m":18.5,"lo":15,"hi":22},
      {"s":"Adol VEH (n=6)","x":2,"m":3.5,"lo":1,"hi":6},
      {"s":"Adol VEH (n=6)","x":3,"m":3.5,"lo":2,"hi":5},
      {"s":"Adol VEH (n=6)","x":4,"m":3.5,"lo":2.5,"hi":4.5},
      {"s":"Adol VEH (n=6)","x":5,"m":2.5,"lo":1.5,"hi":3.5},
      {"s":"Adol VEH (n=6)","x":6,"m":3,"lo":1.5,"hi":4.5}
     ]},
     "encoding": {"x": {"field": "x", "type": "ordinal", "scale": {"type": "point", "padding": 0.75}, "axis": {"labels": false, "ticks": false, "title": null}}},
     "layer": [
      {"mark": {"type": "rule", "strokeWidth": 1, "color": "#000"}, "encoding": {"y": {"field": "lo", "type": "quantitative", "scale": {"domain": [0, 40]}, "axis": {"title": null, "values": [0,20,40], "tickCount": 10, "tickSize": 4, "labelPadding": 1, "labelFontSize": 11, "labelOverlap": false}}, "y2": {"field": "hi"}}},
      {"mark": {"type": "tick", "thickness": 1, "size": 7, "color": "#000"}, "encoding": {"y": {"field": "lo", "type": "quantitative"}}},
      {"mark": {"type": "tick", "thickness": 1, "size": 7, "color": "#000"}, "encoding": {"y": {"field": "hi", "type": "quantitative"}}},
      {"mark": {"type": "line", "strokeWidth": 1, "color": "#000"}, "encoding": {"y": {"field": "m", "type": "quantitative"}, "detail": {"field": "s"}}},
      {"mark": {"type": "square", "opacity": 1, "strokeWidth": 1, "size": 70}, "encoding": {"y": {"field": "m", "type": "quantitative"},
        "fill": {"field": "s", "type": "nominal", "title": null, "scale": {"domain": ["Adol VEH (n=6)","Adol CHX (n=8)","Adol VEH infusion","Adol CHX infusion"], "range": ["#F9D7B1","#000000","#FCE3CB","#7F7F7F"]}},
        "stroke": {"field": "s", "type": "nominal", "title": null, "scale": {"domain": ["Adol VEH (n=6)","Adol CHX (n=8)","Adol VEH infusion","Adol CHX infusion"], "range": ["#000000","#000000","#8F8F8F","#6F6F6F"]}}}},
      {"data": {"values": [{"x": 1, "y": 25.5, "t": "#"}]}, "mark": {"type": "text", "fontSize": 13, "fontWeight": "bold", "color": "#000"}, "encoding": {"x": {"field": "x", "type": "ordinal"}, "y": {"field": "y", "type": "quantitative"}, "text": {"field": "t"}}}
     ]
    },
    {"width": 70, "height": 36,
     "data": {"values": [
      {"s":"Adol CHX (n=8)","x":1,"m":2.5,"lo":1.5,"hi":3.5},
      {"s":"Adol CHX (n=8)","x":2,"m":0.8,"lo":0.4,"hi":1.2},
      {"s":"Adol CHX (n=8)","x":3,"m":0.3,"lo":0.1,"hi":0.5},
      {"s":"Adol CHX (n=8)","x":4,"m":0.5,"lo":0.2,"hi":0.8},
      {"s":"Adol CHX (n=8)","x":5,"m":0.2,"lo":0,"hi":0.4},
      {"s":"Adol CHX (n=8)","x":6,"m":0.3,"lo":0.1,"hi":0.5},
      {"s":"Adol VEH (n=6)","x":1,"m":3.7,"lo":2.2,"hi":5.2},
      {"s":"Adol VEH (n=6)","x":2,"m":1.2,"lo":0.7,"hi":1.7},
      {"s":"Adol VEH (n=6)","x":3,"m":0.4,"lo":0.1,"hi":0.7},
      {"s":"Adol VEH (n=6)","x":4,"m":0.8,"lo":0.4,"hi":1.2},
      {"s":"Adol VEH (n=6)","x":5,"m":0.3,"lo":0.1,"hi":0.5},
      {"s":"Adol VEH (n=6)","x":6,"m":0.3,"lo":0.1,"hi":0.5}
     ]},
     "encoding": {"x": {"field": "x", "type": "ordinal", "scale": {"type": "point", "padding": 0.75}, "axis": {"labels": false, "ticks": false, "title": ["Test", "(20 min Bins)"], "titleFontSize": 11.5, "titleLineHeight": 17, "titlePadding": 14}}},
     "layer": [
      {"mark": {"type": "rule", "strokeWidth": 1, "color": "#000"}, "encoding": {"y": {"field": "lo", "type": "quantitative", "scale": {"domain": [0, 20]}, "axis": {"title": null, "values": [0,20], "tickCount": 10, "tickSize": 4, "labelPadding": 1, "labelFontSize": 11, "labelOverlap": false}}, "y2": {"field": "hi"}}},
      {"mark": {"type": "tick", "thickness": 1, "size": 7, "color": "#000"}, "encoding": {"y": {"field": "hi", "type": "quantitative"}}},
      {"mark": {"type": "line", "strokeWidth": 1, "color": "#000"}, "encoding": {"y": {"field": "m", "type": "quantitative"}, "detail": {"field": "s"}}},
      {"mark": {"type": "square", "opacity": 1, "strokeWidth": 1, "size": 70}, "encoding": {"y": {"field": "m", "type": "quantitative"},
        "fill": {"field": "s", "type": "nominal", "title": null, "scale": {"domain": ["Adol VEH (n=6)","Adol CHX (n=8)","Adol VEH infusion","Adol CHX infusion"], "range": ["#F9D7B1","#000000","#FCE3CB","#7F7F7F"]}},
        "stroke": {"field": "s", "type": "nominal", "title": null, "scale": {"domain": ["Adol VEH (n=6)","Adol CHX (n=8)","Adol VEH infusion","Adol CHX infusion"], "range": ["#000000","#000000","#8F8F8F","#6F6F6F"]}}}},
      {"data": {"values": [{"x": 1, "y": 13.5, "t": "#"}]}, "mark": {"type": "text", "fontSize": 13, "fontWeight": "bold", "color": "#000"}, "encoding": {"x": {"field": "x", "type": "ordinal"}, "y": {"field": "y", "type": "quantitative"}, "text": {"field": "t"}}}
     ]
    }
   ], "spacing": 27, "bounds": "flush"}
  ], "spacing": 37}
 ], "spacing": 33}
],
"spacing": 30
}
